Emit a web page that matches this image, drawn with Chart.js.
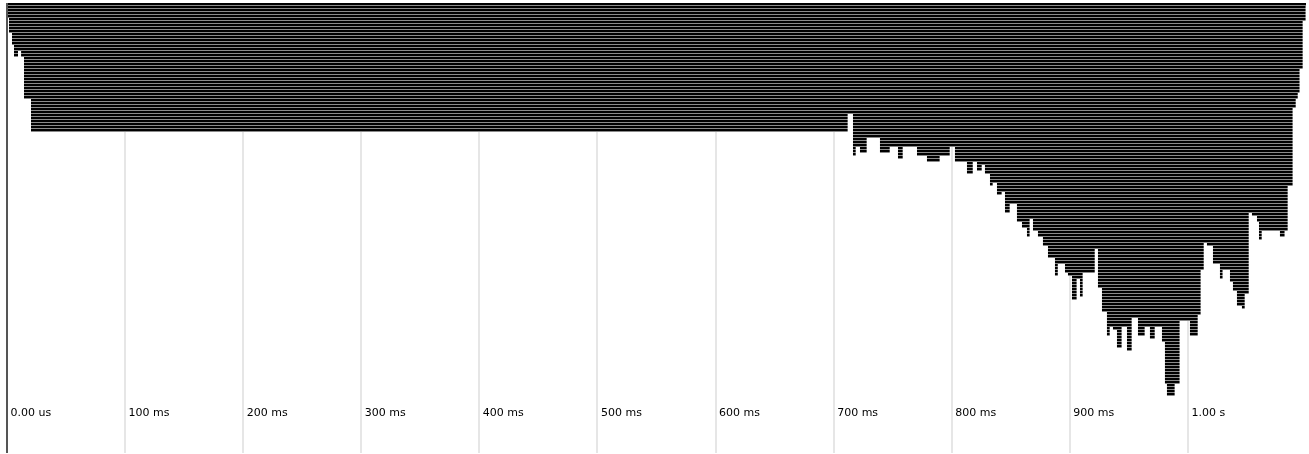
<!DOCTYPE html>
<html>
<head>
<meta charset="utf-8">
<title>Profil</title>
<script src="https://cdn.jsdelivr.net/npm/chart.js@4/dist/chart.umd.min.js"></script>
<style>
    html, body { margin: 0; padding: 0; background: #fff; }
    #wrap { width: 1309px; height: 454px; position: relative; }
</style>
</head>
<body>
<div id="wrap"><canvas id="grafico"></canvas></div>
<script>
// ============================================
// DADOS
// ============================================

// eixo do tempo (ms)
const tempoMin = 0;
const tempoMax = 1100;
const tickValores = [0, 100, 200, 300, 400, 500, 600, 700, 800, 900, 1000];
const tickRotulos = ['0.00 us', '100 ms', '200 ms', '300 ms', '400 ms', '500 ms', '600 ms', '700 ms', '800 ms', '900 ms', '1.00 s'];

// perfil da pilha: cada troço acaba em fimTroco[i] (ms) e tem profundidade[i] linhas
const fimTroco = [
    1.7, 4.2, 5.9, 9.3, 11.9, 14.4, 20.3, 712.0, 716.3, 718.8,
    722.2, 728.1, 739.1, 747.6, 754.4, 758.6, 770.5, 778.9, 789.9, 798.4,
    802.6, 812.8, 817.9, 821.3, 825.5, 828.0, 832.3, 834.8, 838.2, 842.4,
    845.0, 849.2, 855.1, 859.4, 863.6, 866.1, 868.7, 872.9, 877.1, 881.4,
    887.3, 889.9, 895.8, 898.3, 901.7, 905.9, 908.5, 911.0, 921.2, 923.7,
    927.1, 931.3, 933.9, 936.4, 939.8, 944.0, 948.3, 952.5, 957.6, 963.5,
    967.7, 972.0, 977.9, 980.4, 982.1, 988.9, 993.1, 1001.6, 1008.4, 1010.9,
    1013.5, 1016.0, 1021.1, 1027.0, 1029.5, 1035.5, 1038.0, 1041.4, 1045.6, 1048.2,
    1051.6, 1054.1, 1058.4, 1060.1, 1062.6, 1077.8, 1082.0, 1084.6, 1088.8, 1091.4,
    1093.1, 1094.7, 1097.3, 1099.8, 1100
];
const profundidade = [
    5, 10, 14, 18, 16, 18, 32, 43, 37, 51,
    48, 50, 45, 50, 48, 52, 48, 51, 53, 51,
    48, 53, 57, 53, 56, 54, 57, 61, 60, 64,
    63, 70, 67, 73, 75, 78, 72, 76, 78, 81,
    85, 91, 87, 90, 91, 99, 92, 98, 90, 82,
    95, 103, 111, 108, 109, 115, 108, 116, 105, 111,
    108, 112, 108, 113, 127, 131, 127, 106, 111, 104,
    89, 80, 81, 87, 92, 89, 93, 96, 101, 102,
    97, 70, 71, 73, 79, 76, 78, 76, 61, 35,
    32, 30, 22, 6, 1
];

const numLinhas = 150;

// ============================================
// CONSTRUÇÃO DAS BARRAS
// ============================================

const linhas = Array.from({ length: numLinhas }, (_, i) => String(i));

// para cada linha, os intervalos contínuos onde a pilha é mais funda que a linha
const intervalosPorLinha = linhas.map((_, r) => {
    const runs = [];
    let inicio = tempoMin;
    let atual = null;
    fimTroco.forEach((fim, i) => {
        if (profundidade[i] > r) {
            if (atual) atual[1] = fim;
            else { atual = [inicio, fim]; runs.push(atual); }
        } else {
            atual = null;
        }
        inicio = fim;
    });
    return runs;
});

const maxIntervalos = Math.max(...intervalosPorLinha.map(r => r.length));
const datasets = [];
for (let k = 0; k < maxIntervalos; k++) {
    datasets.push({
        data: intervalosPorLinha.map(runs => runs[k] || null),
        backgroundColor: '#000',
        borderColor: '#8a8a8a',
        borderWidth: { top: 0, right: 0, bottom: 1, left: 0 },
        borderSkipped: false,
        inflateAmount: 0,
        barPercentage: 1,
        categoryPercentage: 1,
        grouped: false
    });
}

// rótulos do eixo, desenhados dentro da área
const rotulosTempo = {
    id: 'rotulosTempo',
    afterDraw(chart) {
        const ctx = chart.ctx;
        const x = chart.scales.x;
        ctx.save();
        ctx.font = '11px "DejaVu Sans"';
        ctx.fillStyle = '#000';
        ctx.textBaseline = 'middle';
        ctx.textAlign = 'left';
        tickValores.forEach((v, i) => {
            ctx.fillText(tickRotulos[i], x.getPixelForValue(v) + 3.5, 413);
        });
        ctx.restore();
    }
};

new Chart(document.getElementById('grafico'), {
    type: 'bar',
    data: { labels: linhas, datasets },
    options: {
        indexAxis: 'y',
        responsive: true,
        maintainAspectRatio: false,
        animation: false,
        layout: { padding: { left: 7, right: 3, top: 3, bottom: 1 } },
        plugins: { legend: { display: false }, tooltip: { enabled: false } },
        scales: {
            x: {
                type: 'linear',
                min: tempoMin,
                max: tempoMax,
                ticks: { display: false, stepSize: 100 },
                border: { display: false },
                grid: {
                    drawTicks: false,
                    color: (c) => c.tick.value === 0 ? '#555' : (c.tick.value >= tempoMax ? 'rgba(0,0,0,0)' : '#e6e6e6'),
                    lineWidth: (c) => c.tick.value === 0 ? 2 : 2
                }
            },
            y: {
                type: 'category',
                display: false
            }
        }
    },
    plugins: [rotulosTempo]
});
</script>
</body>
</html>
